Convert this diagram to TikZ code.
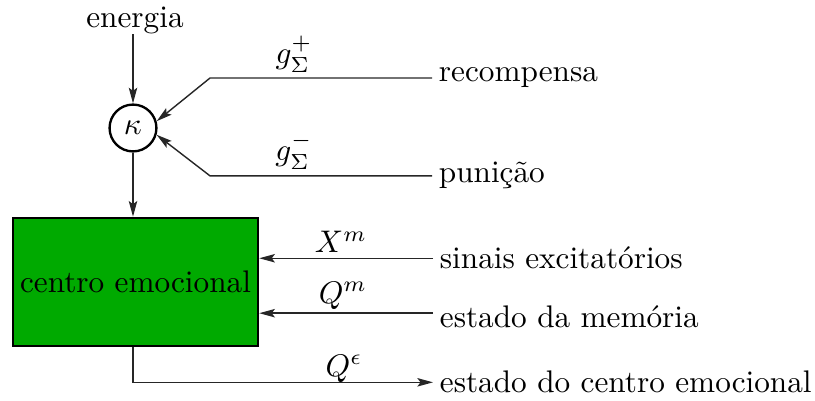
\documentclass[tikz,border=0pt]{standalone}
\usetikzlibrary{arrows.meta}
\definecolor{boxgreen}{RGB}{0,170,0}
\begin{document}
\begin{tikzpicture}[x=0.32pt,y=-0.32pt,
  arr/.style={draw=black!85, line width=0.45pt, -{Stealth[length=5pt,width=2.7pt,inset=1pt]}},
  rtext/.style={anchor=base west, inner sep=0pt, outer sep=2.2pt, font=\fontsize{10}{12}\selectfont},
  mlabel/.style={inner sep=0pt, anchor=south}]
\useasboundingbox (0,0) rectangle (815,401);
% nodes
\node[anchor=base, inner sep=0pt, outer sep=0pt] (en) at (135,28) {energia};
\node[circle, draw, line width=0.75pt, minimum size=15pt, inner sep=0pt] (k) at (133,128) {$\kappa$};
\node[draw, line width=0.8pt, fill=boxgreen, minimum width=78.4pt, minimum height=41pt, inner sep=0pt] (ce) at (135.5,282) {centro emocional};
\node[rtext] (rec) at (432,82) {recompensa};
\node[rtext] (pun) at (432,183) {punição};
\node[rtext] (sin) at (433,269) {sinais excitatórios};
\node[rtext] (mem) at (433,328) {estado da memória};
\node[rtext] (out) at (433,393) {estado do centro emocional};
\coordinate (rb) at (210,0);
% labels
\node[mlabel] (gp) at (294,73) {$g_{\Sigma}^{+}$};
\node[mlabel] (gm) at (294,170) {$g_{\Sigma}^{-}$};
\node[mlabel] (xm) at (341,253) {$X^{m}$};
\node[mlabel] (qm) at (343,310) {$Q^{m}$};
\node[mlabel] (qe) at (344,383) {$Q^{\epsilon}$};
% connectors
\draw[arr] (en.south -| k) -- (k);
\draw[arr] (rec.west) -- (rec.west -| rb) -- (k.16);
\draw[arr] (pun.west) -- (pun.west -| rb) -- (k.-16);
\draw[arr] (k) -- (k |- ce.north);
\draw[arr] (sin.west) -- (sin.west -| ce.east);
\draw[arr] ([yshift=1.3pt]mem.west) -- ([yshift=1.3pt]mem.west -| ce.east);
\draw[arr] (k |- ce.south) |- (out.west);
\end{tikzpicture}
\end{document}
